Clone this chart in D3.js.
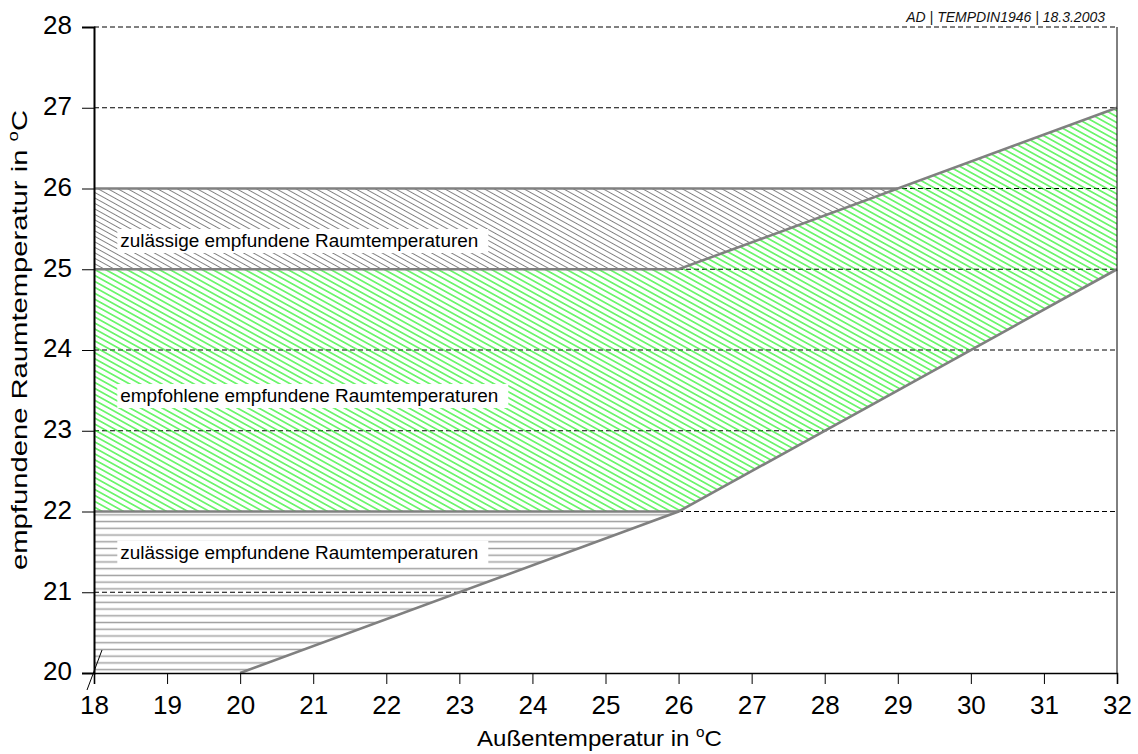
<!DOCTYPE html>
<html><head><meta charset="utf-8">
<script src="https://cdn.jsdelivr.net/npm/d3@7"></script>
<style>
html,body{margin:0;padding:0;background:#fff;}
svg{display:block;font-family:Arial,"Liberation Sans",sans-serif;}
</style></head>
<body>
<svg id="chart" width="1138" height="754"></svg>
<script>
// ---- data ----
const xTicks = [18,19,20,21,22,23,24,25,26,27,28,29,30,31,32];
const yTicks = [20,21,22,23,24,25,26,27,28];
const gridLevels = [21,22,23,24,25,26,27,28];
// regions (Außentemperatur, empfundene Raumtemperatur)
const zulaessigOben = [[18,25],[18,26],[29,26],[26,25]];
const empfohlen = [[18,22],[18,25],[26,25],[32,27],[32,25],[26,22]];
const zulaessigUnten = [[18,20],[18,22],[26,22],[20,20]];
// boundary lines
const grenzeOben26 = [[18,26],[29,26]];
const grenzeOben = [[18,25],[26,25],[32,27]];
const grenzeUnten22 = [[18,22],[26,22]];
const grenzeUnten = [[20,20],[26,22],[32,25]];
// labels
const labelTexts = ["zulässige empfundene Raumtemperaturen","empfohlene empfundene Raumtemperaturen","zulässige empfundene Raumtemperaturen"];
const labelX = [18.36, 18.36, 18.36];
const labelY = [25.35, 23.43, 21.49];
const labelLen = [358, 378, 358];
const xTitle = "Außentemperatur in ";
const yTitle = "empfundene Raumtemperatur in ";
const note = "AD | TEMPDIN1946 | 18.3.2003";

// ---- layout ----
const svg = d3.select("#chart");
const x = d3.scaleLinear().domain([18,32]).range([94,1117]);
const y = d3.scaleLinear().domain([20,28]).range([673,27]);
const line = d3.line().x(d=>x(d[0])).y(d=>y(d[1]));

const defs = svg.append("defs");
function hatch(id, angle, spacing, color, width){
  const p = defs.append("pattern").attr("id",id).attr("patternUnits","userSpaceOnUse")
    .attr("width",20).attr("height",spacing).attr("patternTransform",`rotate(${angle})`);
  p.append("line").attr("x1",0).attr("x2",20).attr("y1",spacing/2).attr("y2",spacing/2)
    .attr("stroke",color).attr("stroke-width",width);
}
hatch("hGrey", 29, 4.8, "#808080", 1);
hatch("hGreen", 29, 5.2, "#00ee00", 1);
hatch("hHoriz", 0, 6.73, "#a0a0a0", 1.5);

// grid
svg.append("g").selectAll("line").data(gridLevels).join("line")
  .attr("x1",x(18)).attr("x2",x(32)).attr("y1",d=>y(d)).attr("y2",d=>y(d))
  .attr("stroke","#000").attr("stroke-width",1).attr("stroke-dasharray","5,3");

// regions
svg.append("path").attr("d",line(zulaessigOben)+"Z").attr("fill","url(#hGrey)");
svg.append("path").attr("d",line(empfohlen)+"Z").attr("fill","url(#hGreen)");
svg.append("path").attr("d",line(zulaessigUnten)+"Z").attr("fill","url(#hHoriz)");

// boundaries
[grenzeOben26, grenzeOben, grenzeUnten22, grenzeUnten].forEach(b=>{
  svg.append("path").attr("d",line(b)).attr("fill","none")
    .attr("stroke","#808080").attr("stroke-width",2.6);
});

// labels with white box
labelTexts.forEach((t,i)=>{
  const g = svg.append("g");
  g.append("rect").attr("x",x(labelX[i])-3).attr("y",y(labelY[i])-12)
    .attr("width",labelLen[i]+13).attr("height",24).attr("fill","#fff");
  g.append("text").attr("x",x(labelX[i])).attr("y",y(labelY[i]))
    .attr("dy","0.36em").attr("font-size",17.5).attr("fill","#000")
    .attr("textLength",labelLen[i]).attr("lengthAdjust","spacingAndGlyphs").text(t);
});

// axes
const yAxis = d3.axisLeft(y).tickValues(yTicks).tickSize(12).tickPadding(10).tickFormat(d3.format("d"));
const gy = svg.append("g").attr("transform",`translate(${x(18)},0)`).call(yAxis);
gy.select(".domain").attr("stroke-width",2);
gy.selectAll("text").attr("font-size",26).attr("font-family","Arial, 'Liberation Sans', sans-serif").attr("dy","0.26em").attr("fill","#000");

const xAxis = d3.axisBottom(x).tickValues(xTicks).tickSize(11).tickPadding(12).tickFormat(d3.format("d"));
const gx = svg.append("g").attr("transform",`translate(0,${y(20)})`).call(xAxis);
gx.select(".domain").attr("stroke-width",1.6);
gx.selectAll("text").attr("font-size",26).attr("font-family","Arial, 'Liberation Sans', sans-serif").attr("fill","#000");

// right border
svg.append("line").attr("x1",x(32)).attr("x2",x(32)).attr("y1",y(28)).attr("y2",y(20))
  .attr("stroke","#000").attr("stroke-width",1);

// axis break mark
svg.append("line").attr("x1",x(18)-7).attr("y1",y(20)+17).attr("x2",x(18)+8).attr("y2",y(20)-23)
  .attr("stroke","#000").attr("stroke-width",1);

// titles
const xt = svg.append("text").attr("x",(x(18)+x(32))/2 - 6).attr("y",746)
  .attr("text-anchor","middle").attr("font-size",22).attr("fill","#000");
xt.append("tspan").text(xTitle);
xt.append("tspan").attr("font-size",14).attr("dy",-9).text("o");
xt.append("tspan").attr("dy",9).text("C");
xt.attr("textLength",245).attr("lengthAdjust","spacingAndGlyphs");

const yt = svg.append("text").attr("transform","translate(26.5,340) rotate(-90)")
  .attr("text-anchor","middle").attr("font-size",22).attr("fill","#000");
yt.append("tspan").text(yTitle);
yt.append("tspan").attr("font-size",14).attr("dy",-9).text("o");
yt.append("tspan").attr("dy",9).text("C");
yt.attr("textLength",460).attr("lengthAdjust","spacingAndGlyphs");

// note
svg.append("text").attr("x",1105).attr("y",22).attr("text-anchor","end")
  .attr("font-size",14).attr("font-style","italic").attr("fill","#111").text(note);
</script>
</body></html>
